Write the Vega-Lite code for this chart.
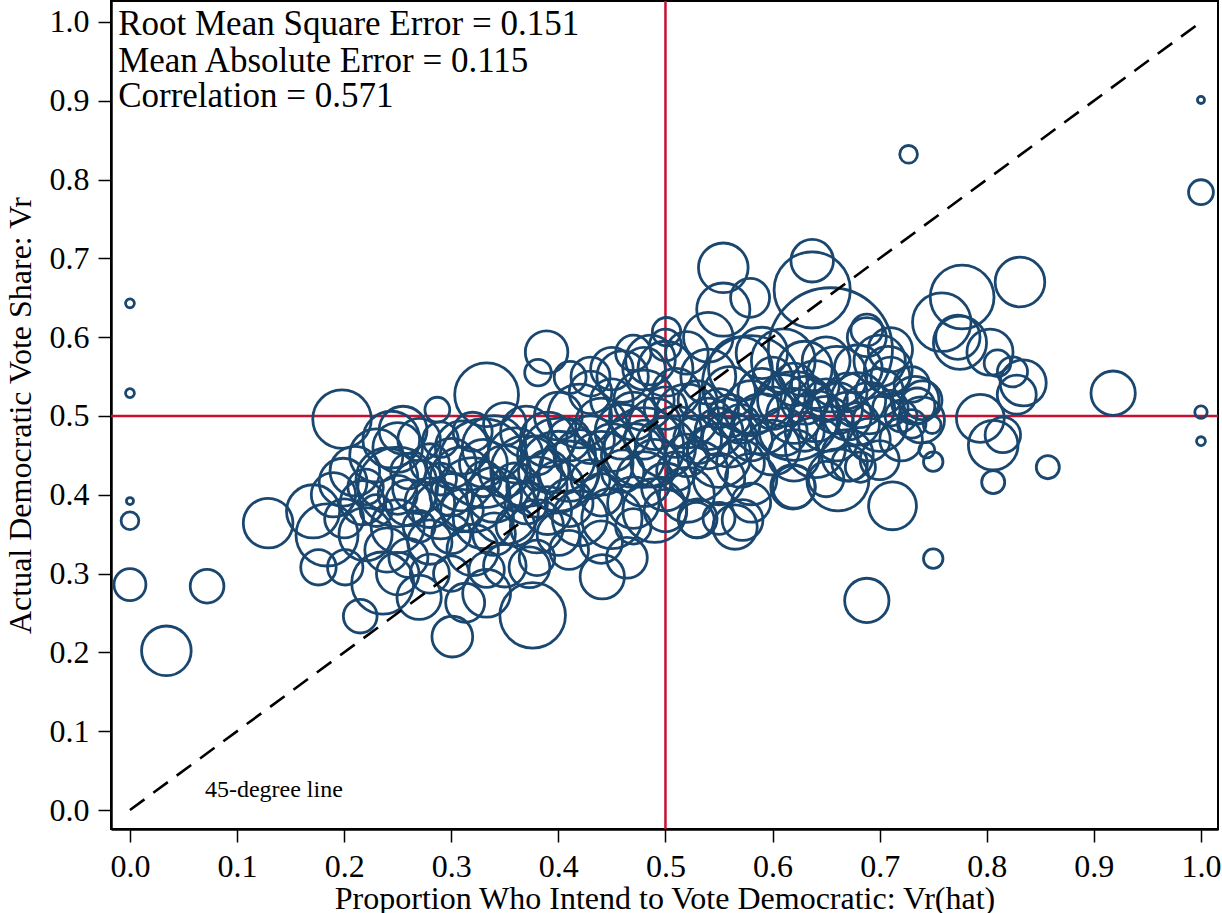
{
  "$schema": "https://vega.github.io/schema/vega-lite/v6.json",
  "width": 1107,
  "height": 828,
  "autosize": {"type": "none"},
  "padding": {"left": 111, "top": 1, "right": 4, "bottom": 84},
  "background": "white",
  "config": {
    "font": "Liberation Serif",
    "view": {"stroke": "black", "strokeWidth": 2},
    "axis": {
      "grid": false,
      "domainColor": "black",
      "domainWidth": 2.5,
      "tickColor": "black",
      "tickWidth": 1.5,
      "tickSize": 13,
      "labelColor": "black",
      "titleColor": "black",
      "labelFont": "Liberation Serif",
      "titleFont": "Liberation Serif",
      "labelFontSize": 32,
      "titleFontSize": 32,
      "titleFontWeight": "normal"
    }
  },
  "datasets": {
    "pts": [
      {"x":0,"y":0.643,"n":25},{"x":0,"y":0.529,"n":25},{"x":0,"y":0.392,"n":16},{"x":0,"y":0.367,"n":100},
      {"x":0,"y":0.286,"n":324},{"x":0.072,"y":0.284,"n":361},{"x":0.034,"y":0.202,"n":784},{"x":0.129,"y":0.364,"n":784},
      {"x":0.198,"y":0.496,"n":1089},{"x":1,"y":0.901,"n":16},{"x":1,"y":0.784,"n":196},{"x":1,"y":0.505,"n":49},
      {"x":1,"y":0.468,"n":25},{"x":0.727,"y":0.832,"n":100},{"x":0.918,"y":0.529,"n":625},{"x":0.857,"y":0.435,"n":169},
      {"x":0.806,"y":0.416,"n":169},{"x":0.750,"y":0.319,"n":121},{"x":0.688,"y":0.266,"n":625},{"x":0.831,"y":0.670,"n":784},
      {"x":0.777,"y":0.651,"n":1296},{"x":0.758,"y":0.619,"n":1089},{"x":0.773,"y":0.600,"n":625},{"x":0.775,"y":0.593,"n":900},
      {"x":0.803,"y":0.581,"n":676},{"x":0.810,"y":0.567,"n":225},{"x":0.824,"y":0.556,"n":289},{"x":0.834,"y":0.542,"n":676},
      {"x":0.828,"y":0.527,"n":484},{"x":0.794,"y":0.497,"n":729},{"x":0.806,"y":0.463,"n":784},{"x":0.815,"y":0.476,"n":400},
      {"x":0.750,"y":0.442,"n":121},{"x":0.744,"y":0.457,"n":81},{"x":0.749,"y":0.489,"n":100},{"x":0.739,"y":0.495,"n":676},
      {"x":0.733,"y":0.520,"n":729},{"x":0.710,"y":0.584,"n":625},{"x":0.708,"y":0.558,"n":729},{"x":0.688,"y":0.600,"n":484},
      {"x":0.735,"y":0.513,"n":400},{"x":0.700,"y":0.444,"n":484},{"x":0.682,"y":0.435,"n":289},{"x":0.712,"y":0.386,"n":729},
      {"x":0.554,"y":0.688,"n":784},{"x":0.637,"y":0.697,"n":576},{"x":0.637,"y":0.660,"n":1849},{"x":0.579,"y":0.650,"n":484},
      {"x":0.554,"y":0.635,"n":900},{"x":0.654,"y":0.584,"n":4900},{"x":0.501,"y":0.607,"n":256},{"x":0.389,"y":0.581,"n":576},
      {"x":0.333,"y":0.527,"n":1296},{"x":0.287,"y":0.508,"n":196},{"x":0.381,"y":0.555,"n":225},{"x":0.411,"y":0.549,"n":324},
      {"x":0.486,"y":0.571,"n":784},{"x":0.688,"y":0.609,"n":324},{"x":0.171,"y":0.379,"n":900},{"x":0.199,"y":0.416,"n":729},
      {"x":0.184,"y":0.349,"n":1225},{"x":0.176,"y":0.308,"n":400},{"x":0.201,"y":0.308,"n":400},{"x":0.215,"y":0.246,"n":361},
      {"x":0.236,"y":0.288,"n":1225},{"x":0.244,"y":0.470,"n":1024},{"x":0.255,"y":0.482,"n":729},{"x":0.217,"y":0.390,"n":625},
      {"x":0.301,"y":0.220,"n":529},{"x":0.313,"y":0.263,"n":484},{"x":0.376,"y":0.247,"n":1369},{"x":0.373,"y":0.308,"n":529},
      {"x":0.333,"y":0.305,"n":400},{"x":0.333,"y":0.275,"n":729},{"x":0.441,"y":0.296,"n":625},{"x":0.464,"y":0.320,"n":529},
      {"x":0.572,"y":0.368,"n":529},{"x":0.529,"y":0.368,"n":400},{"x":0.565,"y":0.359,"n":625},{"x":0.661,"y":0.419,"n":1225},
      {"x":0.619,"y":0.410,"n":625},{"x":0.672,"y":0.440,"n":400},
      {"x":0.19,"y":0.40,"n":625},{"x":0.20,"y":0.37,"n":484},{"x":0.21,"y":0.43,"n":784},{"x":0.22,"y":0.35,"n":900},
      {"x":0.22,"y":0.41,"n":400},{"x":0.23,"y":0.45,"n":900},{"x":0.23,"y":0.38,"n":324},{"x":0.24,"y":0.33,"n":625},
      {"x":0.24,"y":0.42,"n":1225},{"x":0.25,"y":0.40,"n":484},{"x":0.25,"y":0.46,"n":784},{"x":0.25,"y":0.36,"n":900},
      {"x":0.26,"y":0.43,"n":400},{"x":0.26,"y":0.39,"n":676},{"x":0.26,"y":0.32,"n":484},{"x":0.27,"y":0.47,"n":576},
      {"x":0.27,"y":0.41,"n":900},{"x":0.27,"y":0.36,"n":324},{"x":0.28,"y":0.44,"n":484},{"x":0.28,"y":0.39,"n":784},
      {"x":0.28,"y":0.34,"n":625},{"x":0.29,"y":0.42,"n":324},{"x":0.29,"y":0.38,"n":1024},{"x":0.29,"y":0.47,"n":400},
      {"x":0.30,"y":0.40,"n":576},{"x":0.30,"y":0.44,"n":784},{"x":0.30,"y":0.35,"n":484},{"x":0.30,"y":0.30,"n":400},
      {"x":0.25,"y":0.30,"n":576},{"x":0.28,"y":0.30,"n":484},{"x":0.27,"y":0.27,"n":625},
      {"x":0.31,"y":0.42,"n":1296},{"x":0.31,"y":0.38,"n":576},{"x":0.31,"y":0.46,"n":900},{"x":0.32,"y":0.40,"n":1764},
      {"x":0.32,"y":0.33,"n":841},{"x":0.32,"y":0.48,"n":484},{"x":0.33,"y":0.44,"n":729},{"x":0.33,"y":0.37,"n":1156},
      {"x":0.33,"y":0.42,"n":400},{"x":0.34,"y":0.40,"n":961},{"x":0.34,"y":0.46,"n":1296},{"x":0.34,"y":0.35,"n":576},
      {"x":0.35,"y":0.43,"n":841},{"x":0.35,"y":0.38,"n":1444},{"x":0.35,"y":0.49,"n":576},{"x":0.36,"y":0.41,"n":729},
      {"x":0.36,"y":0.45,"n":961},{"x":0.36,"y":0.36,"n":484},{"x":0.37,"y":0.43,"n":1600},{"x":0.37,"y":0.39,"n":576},
      {"x":0.37,"y":0.48,"n":841},{"x":0.38,"y":0.41,"n":1156},{"x":0.38,"y":0.45,"n":484},{"x":0.38,"y":0.36,"n":900},
      {"x":0.39,"y":0.47,"n":961},{"x":0.39,"y":0.43,"n":576},{"x":0.39,"y":0.38,"n":729},{"x":0.40,"y":0.45,"n":1764},
      {"x":0.40,"y":0.41,"n":841},{"x":0.40,"y":0.50,"n":729},{"x":0.40,"y":0.35,"n":576},{"x":0.41,"y":0.47,"n":576},
      {"x":0.41,"y":0.43,"n":1156},{"x":0.41,"y":0.39,"n":729},{"x":0.42,"y":0.45,"n":841},{"x":0.42,"y":0.50,"n":1296},
      {"x":0.42,"y":0.37,"n":961},{"x":0.43,"y":0.47,"n":729},{"x":0.43,"y":0.42,"n":484},{"x":0.43,"y":0.53,"n":576},
      {"x":0.44,"y":0.44,"n":1296},{"x":0.44,"y":0.40,"n":576},{"x":0.44,"y":0.49,"n":841},{"x":0.45,"y":0.46,"n":729},
      {"x":0.45,"y":0.37,"n":1156},{"x":0.45,"y":0.52,"n":576},
      {"x":0.46,"y":0.48,"n":961},{"x":0.46,"y":0.43,"n":576},{"x":0.46,"y":0.55,"n":841},{"x":0.47,"y":0.50,"n":729},
      {"x":0.47,"y":0.45,"n":1296},{"x":0.47,"y":0.39,"n":841},{"x":0.48,"y":0.52,"n":1156},{"x":0.48,"y":0.47,"n":484},
      {"x":0.48,"y":0.42,"n":961},{"x":0.48,"y":0.56,"n":576},{"x":0.49,"y":0.49,"n":841},{"x":0.49,"y":0.44,"n":729},
      {"x":0.49,"y":0.38,"n":1296},{"x":0.50,"y":0.51,"n":576},{"x":0.50,"y":0.46,"n":1156},{"x":0.50,"y":0.41,"n":729},
      {"x":0.50,"y":0.56,"n":961},{"x":0.51,"y":0.48,"n":841},{"x":0.51,"y":0.43,"n":484},{"x":0.51,"y":0.53,"n":729},
      {"x":0.52,"y":0.50,"n":1296},{"x":0.52,"y":0.45,"n":576},{"x":0.52,"y":0.40,"n":961},{"x":0.53,"y":0.47,"n":729},
      {"x":0.53,"y":0.52,"n":484},{"x":0.53,"y":0.43,"n":1156},{"x":0.54,"y":0.49,"n":841},{"x":0.54,"y":0.46,"n":576},
      {"x":0.54,"y":0.55,"n":961},{"x":0.55,"y":0.48,"n":729},{"x":0.55,"y":0.51,"n":484},{"x":0.55,"y":0.42,"n":841},
      {"x":0.55,"y":0.45,"n":1296},
      {"x":0.56,"y":0.50,"n":576},{"x":0.56,"y":0.47,"n":961},{"x":0.56,"y":0.53,"n":841},{"x":0.57,"y":0.49,"n":484},
      {"x":0.57,"y":0.44,"n":729},{"x":0.57,"y":0.56,"n":1296},{"x":0.58,"y":0.51,"n":961},{"x":0.58,"y":0.47,"n":576},
      {"x":0.58,"y":0.42,"n":841},{"x":0.59,"y":0.53,"n":729},{"x":0.59,"y":0.49,"n":1156},{"x":0.59,"y":0.58,"n":841},
      {"x":0.60,"y":0.51,"n":576},{"x":0.60,"y":0.46,"n":961},{"x":0.60,"y":0.55,"n":484},{"x":0.61,"y":0.52,"n":841},
      {"x":0.61,"y":0.48,"n":729},{"x":0.61,"y":0.57,"n":1296},{"x":0.62,"y":0.50,"n":961},{"x":0.62,"y":0.54,"n":576},
      {"x":0.62,"y":0.45,"n":841},{"x":0.63,"y":0.52,"n":729},{"x":0.63,"y":0.48,"n":484},{"x":0.63,"y":0.56,"n":961},
      {"x":0.64,"y":0.50,"n":841},{"x":0.64,"y":0.54,"n":729},{"x":0.64,"y":0.46,"n":1156},{"x":0.65,"y":0.52,"n":576},
      {"x":0.65,"y":0.49,"n":961},{"x":0.65,"y":0.57,"n":729},{"x":0.66,"y":0.51,"n":841},{"x":0.66,"y":0.47,"n":576},
      {"x":0.66,"y":0.55,"n":1156},{"x":0.67,"y":0.50,"n":729},{"x":0.67,"y":0.53,"n":484},{"x":0.67,"y":0.45,"n":841},
      {"x":0.68,"y":0.52,"n":961},{"x":0.68,"y":0.49,"n":576},{"x":0.68,"y":0.56,"n":729},{"x":0.69,"y":0.51,"n":841},
      {"x":0.69,"y":0.47,"n":576},{"x":0.70,"y":0.53,"n":729},{"x":0.70,"y":0.49,"n":961},{"x":0.70,"y":0.57,"n":841},
      {"x":0.71,"y":0.51,"n":400},{"x":0.71,"y":0.55,"n":484},{"x":0.72,"y":0.50,"n":324},{"x":0.72,"y":0.47,"n":576},
      {"x":0.73,"y":0.54,"n":400},{"x":0.73,"y":0.49,"n":256},{"x":0.74,"y":0.52,"n":484},
      {"x":0.33,"y":0.44,"n":2500},{"x":0.40,"y":0.43,"n":2025},{"x":0.58,"y":0.54,"n":3025},{"x":0.48,"y":0.46,"n":2025},
      {"x":0.25,"y":0.41,"n":2025},{"x":0.62,"y":0.50,"n":2500},
      {"x":0.50,"y":0.38,"n":576},{"x":0.47,"y":0.36,"n":400},{"x":0.53,"y":0.37,"n":484},{"x":0.44,"y":0.34,"n":576},
      {"x":0.41,"y":0.33,"n":484},{"x":0.38,"y":0.32,"n":400},{"x":0.35,"y":0.31,"n":576},{"x":0.58,"y":0.39,"n":484},
      {"x":0.62,"y":0.41,"n":576},{"x":0.65,"y":0.42,"n":400},{"x":0.55,"y":0.37,"n":324},
      {"x":0.45,"y":0.56,"n":576},{"x":0.47,"y":0.58,"n":400},{"x":0.43,"y":0.55,"n":484},{"x":0.50,"y":0.59,"n":324},
      {"x":0.52,"y":0.58,"n":576},{"x":0.54,"y":0.60,"n":784}
    ],
    "notes": [
      {"x":-0.011,"y":0.9835,"label":"Root Mean Square Error = 0.151","kind":"stat"},
      {"x":-0.011,"y":0.937,"label":"Mean Absolute Error = 0.115","kind":"stat"},
      {"x":-0.011,"y":0.892,"label":"Correlation = 0.571","kind":"stat"},
      {"x":0.070,"y":0.0165,"label":"45-degree line","kind":"small"}
    ],
    "diag": [{"x":0,"y":0},{"x":1,"y":1}]
  },
  "layer": [
    {
      "data": {"values": [{"v":0.5}]},
      "mark": {"type":"rule","color":"#c8102e","strokeWidth":2.5},
      "encoding": {"x": {"field":"v","type":"quantitative","scale":{"domain":[-0.0177,1.0159],"nice":false,"zero":false}}}
    },
    {
      "data": {"values": [{"v":0.5}]},
      "mark": {"type":"rule","color":"#c8102e","strokeWidth":2.5},
      "encoding": {"y": {"field":"v","type":"quantitative","scale":{"domain":[-0.0241,1.0266],"nice":false,"zero":false}}}
    },
    {
      "data": {"name": "pts"},
      "mark": {"type":"point","shape":"circle","filled":false,"stroke":"#1a476f","strokeWidth":2.8,"opacity":1},
      "encoding": {
        "x": {"field":"x","type":"quantitative","scale":{"domain":[-0.0177,1.0159],"nice":false,"zero":false},
              "axis":{"values":[0,0.1,0.2,0.3,0.4,0.5,0.6,0.7,0.8,0.9,1.0],"format":".1f","title":"Proportion Who Intend to Vote Democratic: Vr(hat)","labelPadding":9,"titlePadding":1,"labelFlush":false}},
        "y": {"field":"y","type":"quantitative","scale":{"domain":[-0.0241,1.0266],"nice":false,"zero":false},
              "axis":{"values":[0,0.1,0.2,0.3,0.4,0.5,0.6,0.7,0.8,0.9,1.0],"format":".1f","title":"Actual Democratic Vote Share: Vr","labelPadding":9,"titlePadding":12,"labelFlush":false}},
        "size": {"field":"n","type":"quantitative","scale":{"type":"linear","domain":[0,5625],"range":[0,17671]},"legend":null}
      }
    },
    {
      "data": {"name": "diag"},
      "mark": {"type":"line","color":"black","strokeWidth":2.6,"strokeDash":[18,11]},
      "encoding": {
        "x": {"field":"x","type":"quantitative"},
        "y": {"field":"y","type":"quantitative"}
      }
    },
    {
      "data": {"name": "notes"},
      "transform": [{"filter":"datum.kind === 'stat'"}],
      "mark": {"type":"text","align":"left","baseline":"alphabetic","fontSize":35,"font":"Liberation Serif","color":"black"},
      "encoding": {
        "x": {"field":"x","type":"quantitative"},
        "y": {"field":"y","type":"quantitative"},
        "text": {"field":"label"}
      }
    },
    {
      "data": {"name": "notes"},
      "transform": [{"filter":"datum.kind === 'small'"}],
      "mark": {"type":"text","align":"left","baseline":"alphabetic","fontSize":24,"font":"Liberation Serif","color":"black"},
      "encoding": {
        "x": {"field":"x","type":"quantitative"},
        "y": {"field":"y","type":"quantitative"},
        "text": {"field":"label"}
      }
    }
  ]
}
